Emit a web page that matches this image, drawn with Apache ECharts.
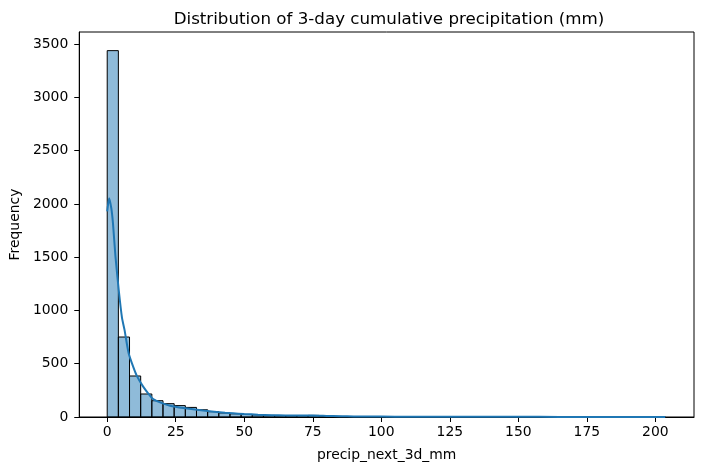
<!DOCTYPE html>
<html>
<head>
<meta charset="utf-8">
<script src="https://cdn.jsdelivr.net/npm/echarts@6/dist/echarts.min.js"></script>
<style>
html,body{margin:0;padding:0;background:#fff;}
#c{width:704px;height:470px;}
</style>
</head>
<body>
<div id="c"></div>
<script>
// ---- data ----
var binStart = 0;
var binWidth = 4.072;
var binCounts = [3440, 751, 385, 216, 153, 125, 107, 90, 68, 50,
                 38, 30, 24, 20, 15, 13, 12, 14, 15, 8,
                 6, 4, 3, 3, 2, 2, 2, 1, 1, 1,
                 1, 0, 1, 1, 0, 1, 0, 1, 0, 0,
                 1, 0, 0, 1, 0, 0, 0, 0, 0, 1];
var kdeX = [0, 0.7, 1.5, 2.1, 3.0, 4.2, 5.4, 6.3, 7.8, 9.5, 10.9, 13, 15, 16.9, 20, 22.9, 27.8, 35, 43, 50, 55, 60, 65, 70, 75, 80, 85, 90, 100, 110, 120, 135, 150, 165, 180, 195, 203.6];
var kdeY = [1930, 2055, 1960, 1820, 1510, 1195, 930, 820, 601, 470, 381, 290, 220, 165, 130, 106, 84, 60, 40, 28, 22, 17, 14, 13, 13, 10, 7, 5, 4, 3, 3, 2, 2, 1, 1, 1, 1];
var xTicks = [0, 25, 50, 75, 100, 125, 150, 175, 200];
var yTicks = [0, 500, 1000, 1500, 2000, 2500, 3000, 3500];
var titleText = 'Distribution of 3-day cumulative precipitation (mm)';
var xName = 'precip_next_3d_mm';
var yName = 'Frequency';

// ---- build ----
var histData = binCounts.map(function (c, i) {
  return [binStart + i * binWidth, binStart + (i + 1) * binWidth, c];
});
var kdeData = kdeX.map(function (x, i) { return [x, kdeY[i]]; });

var font = 'DejaVu Sans';
var plain = function (v) { return String(v); };
var chart = echarts.init(document.getElementById('c'), null, {renderer: 'canvas'});
chart.setOption({
  animation: false,
  backgroundColor: '#fff',
  title: {
    text: titleText,
    left: 384, top: 6, textAlign: 'center',
    textStyle: {fontFamily: font, fontSize: 16.7, fontWeight: 'normal', color: '#000'}
  },
  grid: {
    left: 74, right: 10, top: 32, bottom: 53,
    show: true, borderColor: '#000', borderWidth: 1, backgroundColor: 'transparent'
  },
  xAxis: {
    type: 'value', min: -10.2, max: 214.1,
    name: xName, nameLocation: 'middle', nameGap: 31,
    nameTextStyle: {fontFamily: font, fontSize: 13.9, color: '#000'},
    axisLine: {show: true, onZero: false, lineStyle: {color: '#000', width: 1}},
    axisTick: {show: true, length: 5, customValues: xTicks, lineStyle: {color: '#000'}},
    axisLabel: {customValues: xTicks, formatter: plain, fontFamily: font, fontSize: 13.9, color: '#000', margin: 8},
    splitLine: {show: false}
  },
  yAxis: {
    type: 'value', min: 0, max: 3615,
    name: yName, nameLocation: 'middle', nameGap: 57,
    nameTextStyle: {fontFamily: font, fontSize: 13.9, color: '#000'},
    axisLine: {show: true, onZero: false, lineStyle: {color: '#000', width: 1}},
    axisTick: {show: true, length: 5, customValues: yTicks, lineStyle: {color: '#000'}},
    axisLabel: {customValues: yTicks, formatter: plain, fontFamily: font, fontSize: 13.9, color: '#000', margin: 11},
    splitLine: {show: false}
  },
  series: [
    {
      type: 'custom',
      data: histData,
      encode: {x: [0, 1], y: 2},
      renderItem: function (params, api) {
        var p0 = api.coord([api.value(0), 0]);
        var p1 = api.coord([api.value(1), api.value(2)]);
        return {
          type: 'rect',
          shape: {x: p0[0], y: p1[1], width: p1[0] - p0[0], height: p0[1] - p1[1]},
          style: {fill: 'rgba(31,119,180,0.5)', stroke: '#000', lineWidth: 1}
        };
      },
      z: 2
    },
    {
      type: 'line',
      data: kdeData,
      smooth: 0.2,
      showSymbol: false,
      lineStyle: {color: '#1f77b4', width: 2},
      z: 3
    }
  ]
});
</script>
</body>
</html>
